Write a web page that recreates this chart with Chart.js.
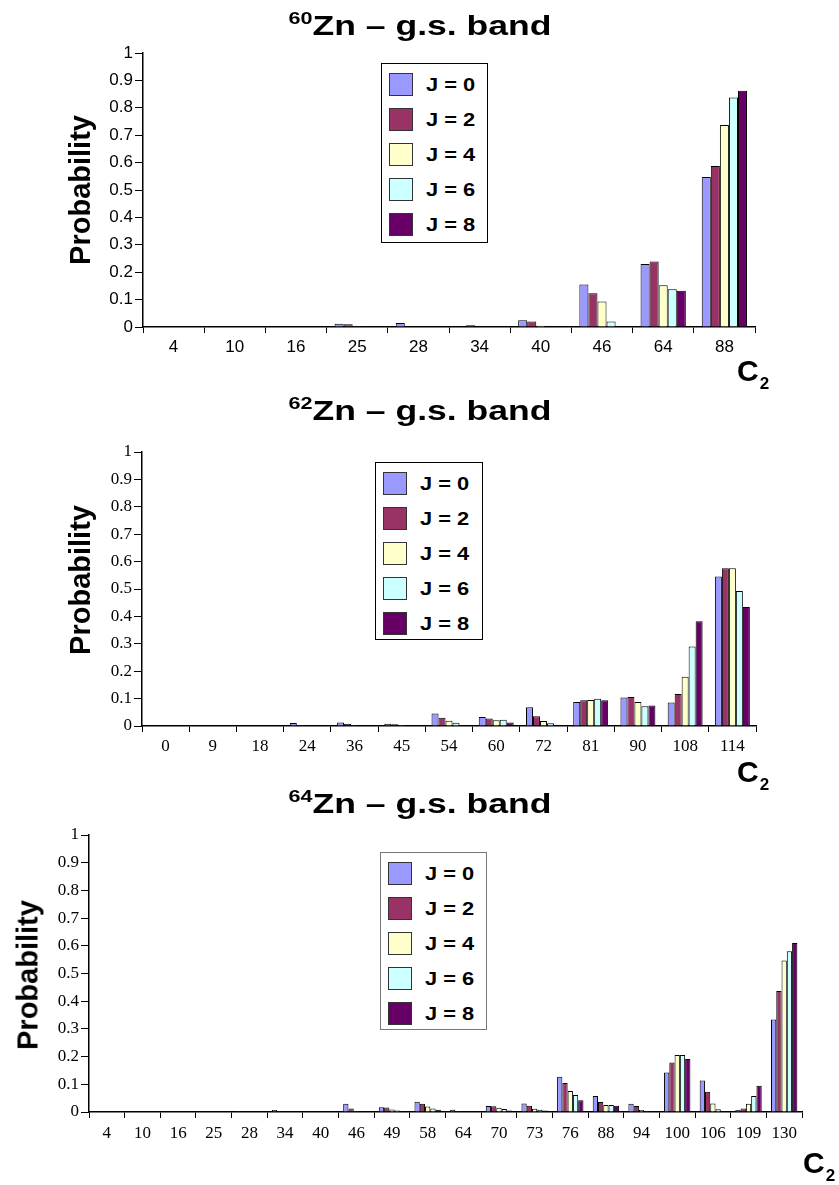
<!DOCTYPE html>
<html>
<head>
<meta charset="utf-8">
<script src="https://cdn.jsdelivr.net/npm/chart.js@4.4.0/dist/chart.umd.min.js"></script>
<style>
  html, body { margin: 0; padding: 0; background: #fff; }
  body { width: 839px; height: 1185px; position: relative; overflow: hidden; font-family: "Liberation Sans", Arial, sans-serif; color: #000; }
  canvas { position: absolute; left: 0; }
  .title { position: absolute; font-weight: bold; font-size: 28px; white-space: nowrap; transform: translate(-50%, -50%) scaleX(1.27); }
  .title sup { font-size: 17px; vertical-align: 0; position: relative; top: -11px; }
  .ylab { position: absolute; font-weight: bold; font-size: 29px; white-space: nowrap; transform: translate(-50%, -50%) rotate(-90deg); }
  .c2 { position: absolute; font-weight: bold; font-size: 30px; white-space: nowrap; }
  .c2 sub { font-size: 17px; position: relative; top: 8px; vertical-align: 0; margin-left: 1px; }
  .legend { position: absolute; background: #fff; border: 1px solid #000; box-sizing: border-box; }
  .legend .sw { position: absolute; width: 24px; height: 23px; box-sizing: border-box; border: 1px solid #333; }
  .legend .tx { position: absolute; font-weight: bold; font-size: 19px; white-space: nowrap; transform-origin: left center; transform: scaleX(1.15); line-height: 23px; }
</style>
</head>
<body>
<canvas id="c1"></canvas>
<canvas id="c2"></canvas>
<canvas id="c3"></canvas>

<div class="title" style="left:420px; top:26px;"><sup>60</sup>Zn – g.s. band</div>
<div class="title" style="left:420px; top:411px;"><sup>62</sup>Zn – g.s. band</div>
<div class="title" style="left:420px; top:804px;"><sup>64</sup>Zn – g.s. band</div>

<div class="ylab" style="left:80px; top:190px;">Probability</div>
<div class="ylab" style="left:80px; top:580px;">Probability</div>
<div class="ylab" style="left:28px; top:975px;">Probability</div>

<div class="c2" style="left:737px; top:354px;">C<sub>2</sub></div>
<div class="c2" style="left:737px; top:755px;">C<sub>2</sub></div>
<div class="c2" style="left:803px; top:1146px;">C<sub>2</sub></div>

<div class="legend" id="lg1" style="left:381px; top:63px; width:107px; height:180px;"></div>
<div class="legend" id="lg2" style="left:375px; top:462px; width:108px; height:178px;"></div>
<div class="legend" id="lg3" style="left:380px; top:852px; width:107px; height:178px; border-color:#777;"></div>

<script>
// ---------- DATA ----------
const seriesLabels = ['J = 0', 'J = 2', 'J = 4', 'J = 6', 'J = 8'];

// 60Zn
const zn60Categories = ['4', '10', '16', '25', '28', '34', '40', '46', '64', '88'];
const zn60J0 = [0.000, 0.002, 0.001, 0.012, 0.015, 0.002, 0.025, 0.155, 0.230, 0.547];
const zn60J2 = [0.000, 0.000, 0.000, 0.010, 0.002, 0.006, 0.020, 0.123, 0.239, 0.588];
const zn60J4 = [0.000, 0.000, 0.000, 0.003, 0.000, 0.001, 0.005, 0.093, 0.152, 0.737];
const zn60J6 = [0.000, 0.000, 0.000, 0.000, 0.000, 0.000, 0.002, 0.020, 0.138, 0.838];
const zn60J8 = [0.000, 0.000, 0.000, 0.000, 0.000, 0.000, 0.001, 0.002, 0.132, 0.862];

// 62Zn
const zn62Categories = ['0', '9', '18', '24', '36', '45', '54', '60', '72', '81', '90', '108', '114'];
const zn62J0 = [0.000, 0.000, 0.001, 0.011, 0.013, 0.008, 0.046, 0.033, 0.068, 0.088, 0.104, 0.086, 0.546];
const zn62J2 = [0.000, 0.000, 0.000, 0.004, 0.007, 0.006, 0.030, 0.027, 0.036, 0.094, 0.106, 0.117, 0.576];
const zn62J4 = [0.000, 0.000, 0.000, 0.000, 0.003, 0.004, 0.019, 0.021, 0.018, 0.095, 0.088, 0.180, 0.576];
const zn62J6 = [0.000, 0.000, 0.000, 0.000, 0.002, 0.002, 0.012, 0.023, 0.010, 0.099, 0.072, 0.290, 0.493];
const zn62J8 = [0.000, 0.000, 0.000, 0.000, 0.000, 0.000, 0.002, 0.013, 0.003, 0.094, 0.075, 0.382, 0.434];

// 64Zn
const zn64Categories = ['4', '10', '16', '25', '28', '34', '40', '46', '49', '58', '64', '70', '73', '76', '88', '94', '100', '106', '109', '130'];
const zn64J0 = [0.000, 0.000, 0.000, 0.002, 0.003, 0.007, 0.002, 0.030, 0.017, 0.037, 0.008, 0.022, 0.031, 0.127, 0.058, 0.030, 0.143, 0.114, 0.007, 0.334];
const zn64J2 = [0.000, 0.000, 0.000, 0.000, 0.000, 0.004, 0.000, 0.013, 0.016, 0.030, 0.004, 0.021, 0.023, 0.105, 0.036, 0.022, 0.179, 0.073, 0.013, 0.437];
const zn64J4 = [0.000, 0.000, 0.000, 0.000, 0.000, 0.000, 0.000, 0.003, 0.009, 0.020, 0.001, 0.015, 0.012, 0.076, 0.025, 0.007, 0.206, 0.031, 0.030, 0.547];
const zn64J6 = [0.000, 0.000, 0.000, 0.000, 0.000, 0.000, 0.000, 0.000, 0.005, 0.013, 0.000, 0.011, 0.008, 0.061, 0.025, 0.003, 0.206, 0.010, 0.058, 0.580];
const zn64J8 = [0.000, 0.000, 0.000, 0.000, 0.000, 0.000, 0.000, 0.000, 0.002, 0.008, 0.000, 0.005, 0.005, 0.042, 0.023, 0.001, 0.191, 0.002, 0.095, 0.610];

// ---------- STYLE ----------
const seriesColors = ['#9999FF', '#993366', '#FFFFCC', '#CCFFFF', '#660066'];
const W = 839;

function buildChart(cfg) {
  const canvas = document.getElementById(cfg.id);
  canvas.width = W;
  canvas.height = cfg.height;
  canvas.style.top = cfg.top + 'px';
  canvas.style.width = W + 'px';
  canvas.style.height = cfg.height + 'px';

  const datasets = cfg.series.map((vals, i) => ({
    label: seriesLabels[i],
    data: vals,
    backgroundColor: seriesColors[i],
    borderColor: '#000',
    borderWidth: 1,
    borderSkipped: 'bottom',
    categoryPercentage: 0.74,
    barPercentage: 1.0
  }));

  const tickFont = { family: cfg.tickFamily, size: cfg.tickSize };

  const chart = new Chart(canvas.getContext('2d'), {
    type: 'bar',
    data: { labels: cfg.categories, datasets },
    options: {
      responsive: false,
      maintainAspectRatio: false,
      animation: false,
      devicePixelRatio: 1,
      layout: { padding: { left: 0, right: W - cfg.right, top: cfg.yTopAbs - cfg.top, bottom: 0 } },
      plugins: { legend: { display: false }, tooltip: { enabled: false }, title: { display: false } },
      scales: {
        x: {
          type: 'category',
          offset: true,
          grid: { offset: true, drawOnChartArea: false, drawTicks: true, tickLength: 6, color: '#000', lineWidth: 1 },
          border: { display: true, color: '#000', width: 1.5 },
          ticks: { color: '#000', font: tickFont, padding: cfg.xPad, maxRotation: 0, autoSkip: false },
          afterFit: (s) => { s.height = cfg.top + cfg.height - cfg.yZeroAbs; }
        },
        y: {
          min: 0, max: 1,
          grid: { drawOnChartArea: false, drawTicks: true, tickLength: 8, color: '#000', lineWidth: 1 },
          border: { display: true, color: '#000', width: 1.5 },
          ticks: {
            stepSize: 0.1, color: '#000', font: tickFont, padding: 2,
            callback: (v) => String(Math.round(v * 10) / 10)
          },
          afterFit: (s) => { s.width = cfg.axisX; }
        }
      }
    }
  });

  // HTML legend built from chart datasets
  const lg = document.getElementById(cfg.legendId);
  chart.data.datasets.forEach((ds, i) => {
    const sw = document.createElement('div');
    sw.className = 'sw';
    sw.style.left = '7px';
    sw.style.top = (9 + i * 35) + 'px';
    sw.style.background = ds.backgroundColor;
    lg.appendChild(sw);
    const tx = document.createElement('div');
    tx.className = 'tx';
    tx.style.left = '44px';
    tx.style.top = (9 + i * 35) + 'px';
    tx.textContent = ds.label;
    lg.appendChild(tx);
  });
  return chart;
}

buildChart({ id: 'c1', legendId: 'lg1', top: 0, height: 390, axisX: 143, right: 755, yTopAbs: 53, yZeroAbs: 327,
  categories: zn60Categories, series: [zn60J0, zn60J2, zn60J4, zn60J6, zn60J8],
  tickFamily: '"Liberation Sans", Arial, sans-serif', tickSize: 17, xPad: 4 });

buildChart({ id: 'c2', legendId: 'lg2', top: 390, height: 400, axisX: 142, right: 756, yTopAbs: 452, yZeroAbs: 726,
  categories: zn62Categories, series: [zn62J0, zn62J2, zn62J4, zn62J6, zn62J8],
  tickFamily: '"Liberation Serif", "Times New Roman", serif', tickSize: 17, xPad: 4 });

buildChart({ id: 'c3', legendId: 'lg3', top: 790, height: 395, axisX: 89, right: 802, yTopAbs: 835, yZeroAbs: 1112,
  categories: zn64Categories, series: [zn64J0, zn64J2, zn64J4, zn64J6, zn64J8],
  tickFamily: '"Liberation Serif", "Times New Roman", serif', tickSize: 17, xPad: 5 });
</script>
</body>
</html>
